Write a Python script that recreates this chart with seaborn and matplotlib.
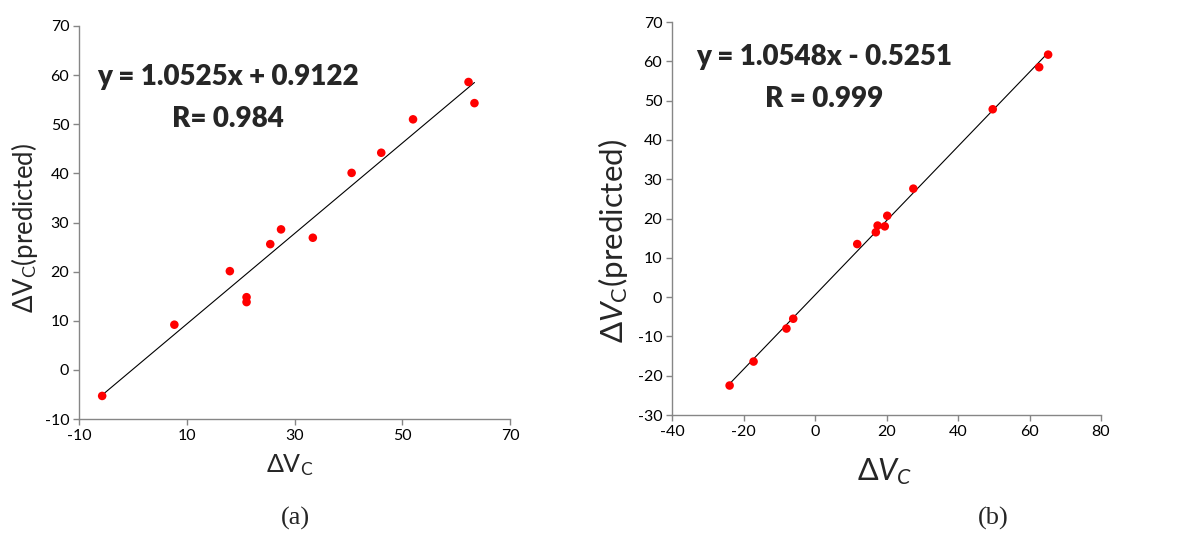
import numpy as np
import pandas as pd
import matplotlib
matplotlib.use("Agg")
import matplotlib.pyplot as plt
import seaborn as sns

# ---- data ----
a_measured = [-5.7, 7.7, 18.0, 21.1, 21.1, 25.5, 27.5, 33.4, 40.6, 46.1, 52.0, 62.3, 63.4]
a_predicted = [-5.3, 9.2, 20.1, 14.8, 13.8, 25.6, 28.6, 26.9, 40.1, 44.2, 51.0, 58.6, 54.3]
b_measured = [-23.9, -17.2, -8.0, -6.1, 11.8, 17.0, 17.5, 19.5, 20.2, 27.5, 49.7, 62.7, 65.2]
b_predicted = [-22.5, -16.4, -8.0, -5.5, 13.5, 16.5, 18.2, 18.0, 20.7, 27.6, 47.8, 58.5, 61.7]

a_xticks = [-10, 10, 30, 50, 70]
a_yticks = [-10, 0, 10, 20, 30, 40, 50, 60, 70]
b_xticks = [-40, -20, 0, 20, 40, 60, 80]
b_yticks = [-30, -20, -10, 0, 10, 20, 30, 40, 50, 60, 70]

a_eq = "y = 1.0525x + 0.9122"
a_r = "R= 0.984"
b_eq = "y = 1.0548x - 0.5251"
b_r = "R = 0.999"

sns.set_style("ticks")
plt.rcParams['font.family'] = ['Lato', 'DejaVu Sans']
plt.rcParams['axes.unicode_minus'] = False
plt.rcParams['mathtext.fontset'] = 'custom'
plt.rcParams['mathtext.rm'] = 'Lato'
plt.rcParams['mathtext.it'] = 'Lato:italic'
plt.rcParams['mathtext.bf'] = 'Lato:bold'

fig = plt.figure(figsize=(11.88, 5.59), dpi=100)
ax1 = fig.add_axes([0.0665, 0.2504, 0.3628, 0.7031])
ax2 = fig.add_axes([0.5657, 0.2576, 0.3611, 0.7030])

dfa = pd.DataFrame({"x": a_measured, "y": a_predicted})
dfb = pd.DataFrame({"x": b_measured, "y": b_predicted})

spine_col = "#868686"

for ax, df, xt, yt in [(ax1, dfa, a_xticks, a_yticks), (ax2, dfb, b_xticks, b_yticks)]:
    sns.regplot(data=df, x="x", y="y", ax=ax, scatter=False, ci=None,
                line_kws=dict(color="black", lw=0.8))
    sns.scatterplot(data=df, x="x", y="y", ax=ax, color="#FF0000", s=38,
                    edgecolor="none", zorder=3)
    ax.set_xlim(xt[0], xt[-1])
    ax.set_ylim(yt[0], yt[-1])
    ax.set_xticks(xt)
    ax.set_yticks(yt)
    sns.despine(ax=ax)
    for s in ["left", "bottom"]:
        ax.spines[s].set_color(spine_col)
        ax.spines[s].set_linewidth(1.0)
    ax.tick_params(axis="both", direction="out", length=4, width=1,
                   color=spine_col, labelsize=11.5, labelcolor="black", pad=3)
    ax.set_xlabel("")
    ax.set_ylabel("")

# equation texts
eq_kw = dict(ha="center", va="center", fontsize=20, fontweight="heavy")
ax1.text(0.346, 0.870, a_eq, transform=ax1.transAxes, **eq_kw)
ax1.text(0.346, 0.763, a_r, transform=ax1.transAxes, **eq_kw)
ax2.text(0.354, 0.911, b_eq, transform=ax2.transAxes, **eq_kw)
ax2.text(0.354, 0.804, b_r, transform=ax2.transAxes, **eq_kw)

# axis labels
fig.text(24/1188, 1-228/559, r"$\Delta\mathrm{V}_\mathrm{C}$(predicted)", rotation=90,
         ha="center", va="center", fontsize=18.5)
fig.text(290/1188, 1-465/559, r"$\Delta\mathrm{V}_\mathrm{C}$", ha="center", va="center",
         fontsize=18)
fig.text(613/1188, 1-241/559, r"$\Delta V_\mathrm{C}$(predicted)", rotation=90,
         ha="center", va="center", fontsize=22.5)
fig.text(885/1188, 1-472/559, r"$\Delta V_C$", ha="center", va="center",
         fontsize=22)

# panel labels
fig.text(295/1188, 1-518/559, "(a)", ha="center", va="center", fontsize=19,
         family=["Liberation Serif", "DejaVu Serif"])
fig.text(993/1188, 1-518/559, "(b)", ha="center", va="center", fontsize=19,
         family=["Liberation Serif", "DejaVu Serif"])

fig.savefig("out.png", dpi=100, facecolor="white")
